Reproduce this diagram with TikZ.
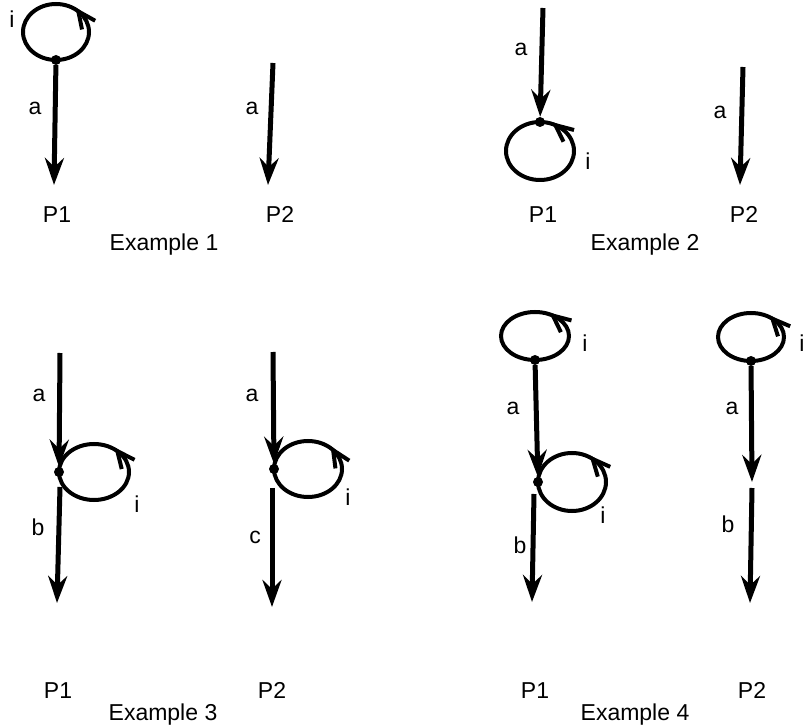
\documentclass[tikz,border=0pt]{standalone}
\usepackage{fontspec}
\setmainfont{Liberation Sans}
\usetikzlibrary{arrows.meta,decorations.markings}

\begin{document}
\begin{tikzpicture}[
  x=1pt,y=-1pt,
  font=\fontsize{23}{27}\selectfont,
  lbl/.style={anchor=base,inner sep=0pt},
  dot/.style={circle,fill,inner sep=0pt,minimum size=10pt},
  arr/.style={-{Stealth[length=27pt,width=19pt,inset=9pt]},line width=5pt},
  loopline/.style={line width=4pt,postaction={decorate},
    decoration={markings,mark=at position #1 with
      {\draw[line width=4pt] (-19pt,-3pt) -- (0pt,0pt) -- (-14pt,12pt);}}}
]
\useasboundingbox (0,0) rectangle (804,727);

\node[dot] (d1) at (56,60) {};
\coordinate (e1) at (54,185);
\draw[loopline=0.375] (d1.center) arc[start angle=90,end angle=-270,x radius=33,y radius=28];
\draw[arr] (d1) -- (e1);
\node[lbl] (i1) at (12,28) {i};
\node[lbl] (a1) at (35,115) {a};
\coordinate (s2) at (273,63);
\coordinate (e2) at (268,185);
\draw[arr] (s2) -- (e2);
\node[lbl] (a2) at (252,115) {a};
\node[lbl] (p11) at (57,223) {P1};
\node[lbl] (p12) at (280,223) {P2};
\node[lbl] (ex1) at (164,251) {Example 1};

\node[dot] (d3) at (540,122) {};
\coordinate (s3) at (543,8);
\draw[loopline=0.92] (d3.center) arc[start angle=-90,end angle=-450,x radius=34,y radius=29];
\draw[arr] (s3) -- (d3);
\node[lbl] (a3) at (521,56) {a};
\node[lbl] (i3) at (588,170) {i};
\coordinate (s4) at (743,67);
\coordinate (e4) at (740,185);
\draw[arr] (s4) -- (e4);
\node[lbl] (a4) at (720,119) {a};
\node[lbl] (p21) at (543,223) {P1};
\node[lbl] (p22) at (744,223) {P2};
\node[lbl] (ex2) at (645,251) {Example 2};

\node[dot] (d5) at (59,472) {};
\coordinate (s5) at (60,353);
\coordinate (g5) at (60,487);
\coordinate (e5) at (57,603);
\draw[loopline=0.625] (d5.center) arc[start angle=180,end angle=-180,x radius=35,y radius=28];
\draw[arr] (s5) -- (d5);
\draw[arr] (g5) -- (e5);
\node[lbl] (a5) at (39,402) {a};
\node[lbl] (i5) at (137,512) {i};
\node[lbl] (b5) at (38,535) {b};
\node[dot] (d6) at (274,469) {};
\coordinate (s6) at (273,352);
\coordinate (g6) at (272,488);
\coordinate (e6) at (272,607);
\draw[loopline=0.61] (d6.center) arc[start angle=180,end angle=-180,x radius=34,y radius=28];
\draw[arr] (s6) -- (d6);
\draw[arr] (g6) -- (e6);
\node[lbl] (a6) at (252,402) {a};
\node[lbl] (i6) at (348,505) {i};
\node[lbl] (c6) at (255,543) {c};
\node[lbl] (p31) at (58,698) {P1};
\node[lbl] (p32) at (272,698) {P2};
\node[lbl] (ex3) at (163,720) {Example 3};

\node[dot] (d7) at (535,360) {};
\node[dot] (d8) at (538,482) {};
\coordinate (g8) at (534,494);
\coordinate (e8) at (532,602);
\draw[loopline=0.40] (d7.center) arc[start angle=90,end angle=-270,x radius=34,y radius=24];
\draw[loopline=0.64] (d8.center) arc[start angle=180,end angle=-180,x radius=34,y radius=29];
\draw[arr] (d7) -- (d8);
\draw[arr] (g8) -- (e8);
\node[lbl] (i7) at (585,352) {i};
\node[lbl] (a7) at (513,415) {a};
\node[lbl] (i8) at (603,523) {i};
\node[lbl] (b8) at (520,553) {b};
\node[dot] (d9) at (751,361) {};
\coordinate (m9) at (752,482);
\coordinate (g9) at (752,488);
\coordinate (e9) at (750,603);
\draw[loopline=0.375] (d9.center) arc[start angle=90,end angle=-270,x radius=33,y radius=24];
\draw[arr] (d9) -- (m9);
\draw[arr] (g9) -- (e9);
\node[lbl] (i9) at (802,352) {i};
\node[lbl] (a9) at (732,415) {a};
\node[lbl] (b9) at (728,532) {b};
\node[lbl] (p41) at (535,698) {P1};
\node[lbl] (p42) at (752,698) {P2};
\node[lbl] (ex4) at (635,720) {Example 4};
\end{tikzpicture}
\end{document}
